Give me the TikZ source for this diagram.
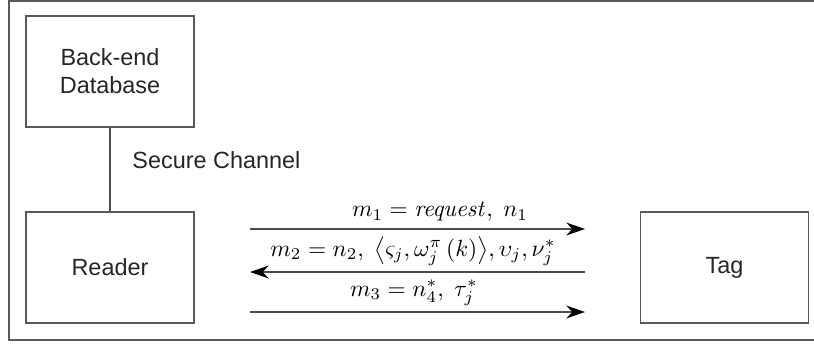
\documentclass[tikz,border=0pt]{standalone}
\usepackage[no-math]{fontspec}
\setmainfont{Liberation Sans}
\usetikzlibrary{arrows.meta, positioning}

\begin{document}
\begin{tikzpicture}[
        x=0.015cm, y=-0.015cm,
        entity/.style={rectangle, draw=black!65, line width=0.6pt,
                       minimum width=2.52cm, minimum height=1.665cm,
                       align=center, inner sep=0pt, font=\normalsize, text=black!85},
        msg/.style={draw=black!70, line width=0.6pt, -{Stealth[length=8pt, width=5.5pt, black]}},
        msglabel/.style={font=\normalsize, inner sep=0.5pt}
      ]
        \useasboundingbox (0,0) rectangle (814,347);
        % Outer frame (open on the right)
        \draw[black!65, line width=0.6pt] (814,1) -- (9,1) -- (9,340) -- (814,340);
        % Entities
        \node[entity] (db) at (110,71.5) {Back-end\\Database};
        \node[entity] (reader) at (110,267.5) {Reader};
        \node[entity] (tag) at (724.5,267.5) {Tag};
        % Secure channel
        \draw[black!70, line width=0.6pt] (db) -- (reader);
        \node[anchor=west, text=black!85, inner sep=0pt] (sec) at (132,160) {Secure Channel};
        % Message ends
        \foreach \k/\y in {1/229, 2/272, 3/312}{
          \coordinate (L\k) at (250,\y);
          \coordinate (R\k) at (585,\y);
        }
        % Messages
        \draw[msg] (L1) -- (R1);
        \draw[msg] (R2) -- (L2);
        \draw[msg] (L3) -- (R3);
        \node[msglabel] (m1) at (440,212) {$m_1 = \mathit{request},\ n_1$};
        \node[msglabel] (m2) at (413,251) {$m_2 = n_2,\ \left\langle \varsigma_j, \omega_j^{\pi}\left(k\right)\right\rangle\!, \upsilon_j, \nu_j^{*}$};
        \node[msglabel] (m3) at (414,293) {$m_3 = n_4^{*},\ \tau_j^{*}$};
\end{tikzpicture}
\end{document}
